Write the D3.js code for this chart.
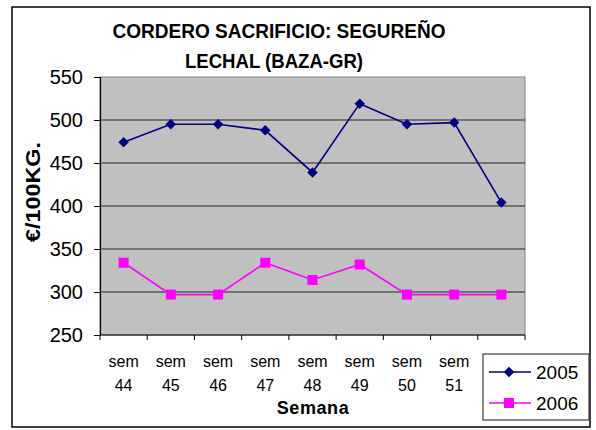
<!DOCTYPE html>
<html>
<head>
<meta charset="utf-8">
<script src="https://cdn.jsdelivr.net/npm/d3@7"></script>
<style>
  body { margin: 0; background: #fff; }
  text { font-family: "Liberation Sans", Arial, sans-serif; }
</style>
</head>
<body>
<div id="chart"></div>
<script>
// chart data
const weeks = ["sem 44", "sem 45", "sem 46", "sem 47", "sem 48", "sem 49", "sem 50", "sem 51", "sem 52"];
const v2005 = [474, 495, 495, 488, 439, 519, 495, 497, 404];
const v2006 = [334, 297, 297, 334, 314, 332, 297, 297, 297];
const yTicks = [250, 300, 350, 400, 450, 500, 550];

const width = 596, height = 430;
const plot = { left: 100, right: 525, top: 77, bottom: 335 };

const svg = d3.select("#chart").append("svg")
    .attr("width", width)
    .attr("height", height);

// outer frame
svg.append("rect")
    .attr("x", 12).attr("y", 7)
    .attr("width", 578).attr("height", 420)
    .attr("fill", "#fff")
    .attr("stroke", "#000")
    .attr("stroke-width", 1.5);

const x = d3.scaleBand().domain(weeks).range([plot.left, plot.right]);
const y = d3.scaleLinear().domain([250, 550]).range([plot.bottom, plot.top]);

// plot area
svg.append("rect")
    .attr("x", plot.left).attr("y", plot.top)
    .attr("width", plot.right - plot.left)
    .attr("height", plot.bottom - plot.top)
    .attr("fill", "#c0c0c0")
    .attr("stroke", "#808080")
    .attr("stroke-width", 1);

// gridlines
svg.append("g")
    .selectAll("line")
    .data(yTicks.filter(d => d > 250 && d < 550))
    .join("line")
    .attr("x1", plot.left).attr("x2", plot.right)
    .attr("y1", d => y(d)).attr("y2", d => y(d))
    .attr("stroke", "#222")
    .attr("stroke-width", 1.2);

// y axis
const yAxis = svg.append("g")
    .attr("transform", `translate(${plot.left},0)`)
    .call(d3.axisLeft(y).tickValues(yTicks).tickSize(6).tickPadding(11));
yAxis.select(".domain").attr("stroke", "#000").attr("stroke-width", 1.2);
yAxis.selectAll(".tick line").attr("stroke", "#000");
yAxis.selectAll(".tick text")
    .attr("font-size", 20)
    .attr("fill", "#000")
    .style("font-family", "'Liberation Sans', Arial, sans-serif");

// x axis: ticks at band edges
const xAxisG = svg.append("g");
xAxisG.append("line")
    .attr("x1", plot.left).attr("x2", plot.right)
    .attr("y1", plot.bottom).attr("y2", plot.bottom)
    .attr("stroke", "#000").attr("stroke-width", 1.2);
xAxisG.selectAll(".xt")
    .data(weeks.concat(["end"]))
    .join("line")
    .attr("class", "xt")
    .attr("x1", (d, i) => i < weeks.length ? x(d) : plot.right)
    .attr("x2", (d, i) => i < weeks.length ? x(d) : plot.right)
    .attr("y1", plot.bottom).attr("y2", plot.bottom + 5)
    .attr("stroke", "#000");

const xLabels = xAxisG.selectAll(".xl")
    .data(weeks)
    .join("text")
    .attr("class", "xl")
    .attr("text-anchor", "middle")
    .attr("font-size", 16)
    .attr("fill", "#000");
xLabels.append("tspan")
    .attr("x", d => x(d) + x.bandwidth() / 2)
    .attr("y", 366.5)
    .text(d => d.split(" ")[0]);
xLabels.append("tspan")
    .attr("x", d => x(d) + x.bandwidth() / 2)
    .attr("y", 390.5)
    .text(d => d.split(" ")[1]);

// axis titles
svg.append("text")
    .attr("x", 313).attr("y", 414)
    .attr("text-anchor", "middle")
    .attr("font-size", 18)
    .attr("font-weight", "bold")
    .attr("letter-spacing", 0.6)
    .text("Semana");

svg.append("text")
    .attr("transform", "translate(40,192) rotate(-90)")
    .attr("text-anchor", "middle")
    .attr("font-size", 21)
    .attr("font-weight", "bold")
    .attr("textLength", 100).attr("lengthAdjust", "spacingAndGlyphs")
    .text("€/100KG.");

// title
const title = svg.append("text")
    .attr("text-anchor", "middle")
    .attr("font-size", 21)
    .attr("font-weight", "bold");
title.append("tspan").attr("x", 279).attr("y", 38)
    .attr("textLength", 333).attr("lengthAdjust", "spacingAndGlyphs")
    .text("CORDERO SACRIFICIO: SEGUREÑO");
title.append("tspan").attr("x", 274).attr("y", 67.5)
    .attr("textLength", 178).attr("lengthAdjust", "spacingAndGlyphs")
    .text("LECHAL (BAZA-GR)");

// series
const series = [
    { name: "2005", values: v2005, color: "#000080", symbol: d3.symbolSquare, size: 55, rotate: 45 },
    { name: "2006", values: v2006, color: "#ff00ff", symbol: d3.symbolSquare, size: 100, rotate: 0 }
];

const line = d3.line()
    .x((d, i) => x(weeks[i]) + x.bandwidth() / 2)
    .y(d => y(d));

series.forEach(s => {
    svg.append("path")
        .datum(s.values)
        .attr("d", line)
        .attr("fill", "none")
        .attr("stroke", s.color)
        .attr("stroke-width", 1.6);

    svg.append("g")
        .selectAll("path")
        .data(s.values)
        .join("path")
        .attr("d", d3.symbol().type(s.symbol).size(s.size))
        .attr("transform", (d, i) => `translate(${x(weeks[i]) + x.bandwidth() / 2},${y(d)}) rotate(${s.rotate})`)
        .attr("fill", s.color);
});

// legend
const legend = svg.append("g");
legend.append("rect")
    .attr("x", 483).attr("y", 354)
    .attr("width", 106).attr("height", 66)
    .attr("fill", "#fff")
    .attr("stroke", "#404040")
    .attr("stroke-width", 1.2);

series.forEach((s, i) => {
    const ly = 372 + i * 31;
    legend.append("line")
        .attr("x1", 489).attr("x2", 531)
        .attr("y1", ly).attr("y2", ly)
        .attr("stroke", s.color)
        .attr("stroke-width", 1.6);
    legend.append("path")
        .attr("d", d3.symbol().type(s.symbol).size(s.size))
        .attr("transform", `translate(509,${ly}) rotate(${s.rotate})`)
        .attr("fill", s.color);
    legend.append("text")
        .attr("x", 536).attr("y", ly + 6.5)
        .attr("font-size", 19)
        .text(s.name);
});
</script>
</body>
</html>
